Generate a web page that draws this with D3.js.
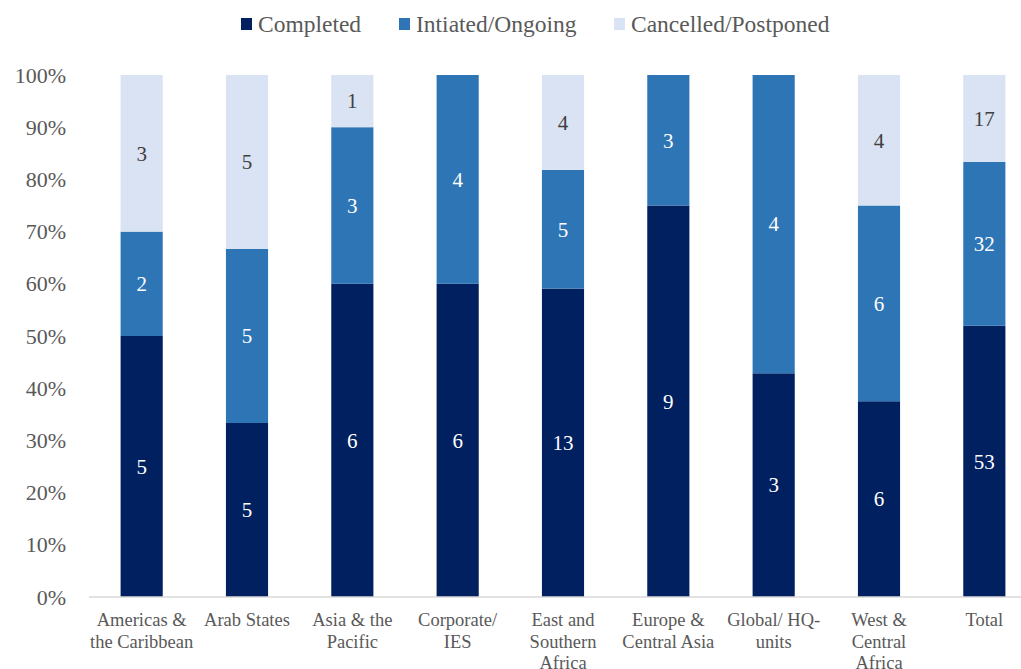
<!DOCTYPE html>
<html>
<head>
<meta charset="utf-8">
<script src="https://cdn.jsdelivr.net/npm/d3@7"></script>
<style>
  html, body { margin: 0; padding: 0; background: #fff; }
  svg { display: block; }
  svg text { font-family: "Times New Roman", "Liberation Serif", "DejaVu Serif", serif !important; }
</style>
</head>
<body>
<svg id="chart" width="1021" height="669"></svg>
<script>
// Evaluation status counts per region
const categories = [
  ["Americas &", "the Caribbean"],
  ["Arab States"],
  ["Asia & the", "Pacific"],
  ["Corporate/", "IES"],
  ["East and", "Southern", "Africa"],
  ["Europe &", "Central Asia"],
  ["Global/ HQ-", "units"],
  ["West &", "Central", "Africa"],
  ["Total"]
];
const seriesNames = ["Completed", "Intiated/Ongoing", "Cancelled/Postponed"];
const completed = [5, 5, 6, 6, 13, 9, 3, 6, 53];
const ongoing   = [2, 5, 3, 4, 5, 3, 4, 6, 32];
const cancelled = [3, 5, 1, 0, 4, 0, 0, 4, 17];
const yTicks = [0, 0.1, 0.2, 0.3, 0.4, 0.5, 0.6, 0.7, 0.8, 0.9, 1.0];

const colors = ["#002060", "#2E75B6", "#DAE3F3"];
const labelColors = ["#ffffff", "#ffffff", "#404040"];

const svg = d3.select("#chart");

const rows = categories.map((c, i) => ({
  key: i,
  lines: c,
  values: [completed[i], ongoing[i], cancelled[i]]
}));

const x = d3.scaleBand()
  .domain(rows.map(d => d.key))
  .range([89, 1037])
  .paddingInner(0.6)
  .paddingOuter(0.3);

const y = d3.scaleLinear().domain([0, 1]).range([597, 75]);

// Y axis labels
const yAxis = d3.axisLeft(y)
  .tickValues(yTicks)
  .tickFormat(d3.format(".0%"))
  .tickSize(0)
  .tickPadding(0);
svg.append("g")
  .attr("transform", "translate(66,0)")
  .call(yAxis)
  .call(g => g.select(".domain").remove())
  .call(g => g.selectAll("text")
    .attr("font-size", 22)
    .attr("fill", "#595959"));

// Stacked percentages
rows.forEach(r => {
  const total = d3.sum(r.values);
  let acc = 0;
  r.segs = r.values.map((v, s) => {
    const seg = { s, v, y0: acc / total, y1: (acc + v) / total };
    acc += v;
    return seg;
  });
});

const barGroups = svg.append("g").selectAll("g")
  .data(rows).join("g")
  .attr("transform", d => `translate(${x(d.key)},0)`);

barGroups.selectAll("rect")
  .data(d => d.segs.filter(s => s.v > 0))
  .join("rect")
  .attr("x", 0)
  .attr("width", x.bandwidth())
  .attr("y", d => y(d.y1))
  .attr("height", d => y(d.y0) - y(d.y1))
  .attr("fill", d => colors[d.s]);

barGroups.selectAll("text")
  .data(d => d.segs.filter(s => s.v > 0))
  .join("text")
  .attr("x", x.bandwidth() / 2)
  .attr("y", d => y((d.y0 + d.y1) / 2))
  .attr("dy", "0.35em")
  .attr("text-anchor", "middle")
  .attr("font-size", 21)
  .attr("fill", d => labelColors[d.s])
  .text(d => d.v);

// Baseline
svg.append("line")
  .attr("x1", 89).attr("x2", 1021)
  .attr("y1", y(0)).attr("y2", y(0))
  .attr("stroke", "#d9d9d9")
  .attr("stroke-width", 1.5);

// Category labels
const catG = svg.append("g").selectAll("text")
  .data(rows).join("text")
  .attr("text-anchor", "middle")
  .attr("font-size", 18.5)
  .attr("fill", "#595959")
  .attr("transform", d => `translate(${x(d.key) + x.bandwidth() / 2},626)`);
catG.selectAll("tspan")
  .data(d => d.lines)
  .join("tspan")
  .attr("x", 0)
  .attr("y", (d, i) => i * 21.5)
  .text(d => d);

// Legend
const legendX = [241, 399, 614];
const legend = svg.append("g").selectAll("g")
  .data(seriesNames).join("g")
  .attr("transform", (d, i) => `translate(${legendX[i]},24)`);
legend.append("rect")
  .attr("x", 0).attr("y", -6)
  .attr("width", 11).attr("height", 12)
  .attr("fill", (d, i) => colors[i]);
legend.append("text")
  .attr("x", 17).attr("y", 0)
  .attr("dy", "0.35em")
  .attr("font-size", 23.5)
  .attr("fill", "#595959")
  .text(d => d);
</script>
</body>
</html>
